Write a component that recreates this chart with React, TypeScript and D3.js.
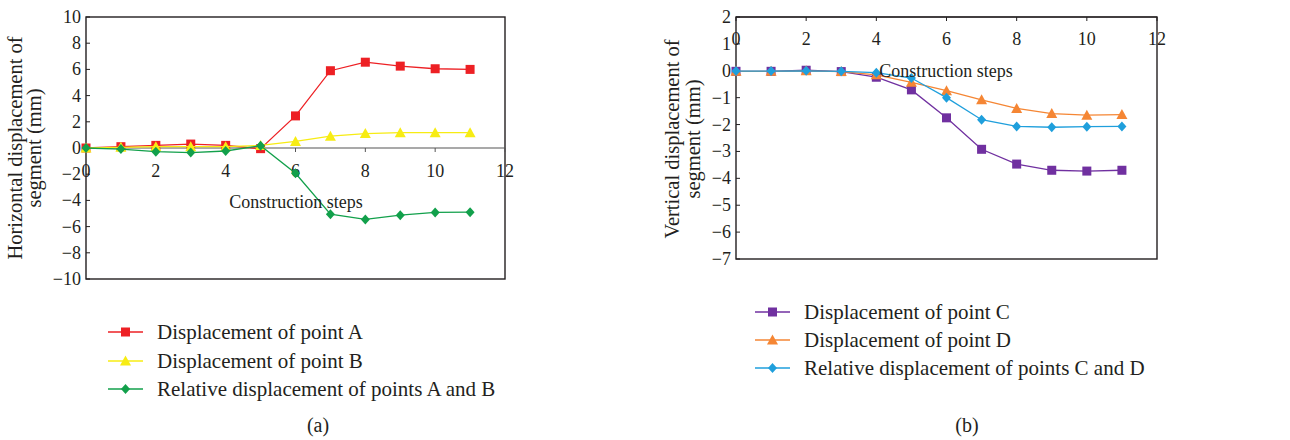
import React from "react";
import * as d3 from "d3";

const steps = [0, 1, 2, 3, 4, 5, 6, 7, 8, 9, 10, 11];
const pointA = [0, 0.1, 0.2, 0.3, 0.2, -0.05, 2.45, 5.9, 6.55, 6.25, 6.05, 6.0];
const pointB = [0, 0.05, 0.1, 0.1, 0.1, 0.2, 0.5, 0.9, 1.1, 1.17, 1.17, 1.17];
const relAB = [0, -0.08, -0.28, -0.35, -0.23, 0.18, -1.93, -5.05, -5.45, -5.13, -4.92, -4.9];
const pointC = [-0.02, -0.02, 0.02, -0.03, -0.24, -0.71, -1.75, -2.92, -3.47, -3.7, -3.73, -3.7];
const pointD = [-0.02, -0.02, 0.0, -0.03, -0.15, -0.43, -0.74, -1.08, -1.4, -1.59, -1.65, -1.63];
const relCD = [-0.01, -0.01, 0.0, -0.02, -0.07, -0.27, -1.0, -1.82, -2.07, -2.1, -2.08, -2.07];
const xTicks = [0, 2, 4, 6, 8, 10, 12];
const yTicksA = [-10, -8, -6, -4, -2, 0, 2, 4, 6, 8, 10];
const yTicksB = [-7, -6, -5, -4, -3, -2, -1, 0, 1, 2];
const legendA = ["Displacement of point A", "Displacement of point B", "Relative displacement of points A and B"];
const legendB = ["Displacement of point C", "Displacement of point D", "Relative displacement of points C and D"];

const FONT = "'Liberation Serif', 'DejaVu Serif', serif";
const TXT = "#231f20";

type Shape = "square" | "triangle" | "diamond";

function Marker({ x, y, shape, color }: { x: number; y: number; shape: Shape; color: string }) {
  if (shape === "square") return <rect x={x - 4.5} y={y - 4.5} width={9} height={9} fill={color} />;
  if (shape === "triangle")
    return <path d={`M${x},${y - 5.5}L${x + 5.5},${y + 4.5}L${x - 5.5},${y + 4.5}Z`} fill={color} />;
  return <path d={`M${x},${y - 5}L${x + 4.5},${y}L${x},${y + 5}L${x - 4.5},${y}Z`} fill={color} />;
}

interface Series { values: number[]; color: string; shape: Shape; }

function Panel(props: {
  x0: number; x1: number; y0: number; y1: number; yDomain: [number, number]; yTicks: number[];
  series: Series[]; xAxisAt: number; xLabelY: number; titleLines: string[]; titleX: number[]; titleCY: number;
  csX: number; csY: number; xAxisColor: string;
}) {
  const xs = d3.scaleLinear().domain([0, 12]).range([props.x0, props.x1]);
  const ys = d3.scaleLinear().domain(props.yDomain).range([props.y1, props.y0]);
  const axY = ys(props.xAxisAt);
  const line = d3.line<number>().x((_, i) => xs(steps[i])).y((d) => ys(d));
  return (
    <g>
      <rect x={props.x0} y={props.y0} width={props.x1 - props.x0} height={props.y1 - props.y0} fill="none" stroke="#231f20" strokeWidth={1.4} />
      <line x1={props.x0} x2={props.x1} y1={axY} y2={axY} stroke={props.xAxisColor} strokeWidth={1.2} />
      {xTicks.map((t) => (
        <g key={t}>
          <line x1={xs(t)} x2={xs(t)} y1={axY} y2={axY + 4} stroke={props.xAxisColor} strokeWidth={1} />
          <text x={xs(t)} y={props.xLabelY} textAnchor="middle" dominantBaseline="central" fontSize={18} fill={TXT}>{t}</text>
        </g>
      ))}
      {props.yTicks.map((t) => (
        <g key={t}>
          <line x1={props.x0} x2={props.x0 + 4} y1={ys(t)} y2={ys(t)} stroke="#231f20" strokeWidth={1} />
          <text x={props.x0 - 5} y={ys(t)} textAnchor="end" dominantBaseline="central" fontSize={18} fill={TXT}>
            {t < 0 ? "\u2212" + Math.abs(t) : t}
          </text>
        </g>
      ))}
      {props.series.map((s, k) => (
        <g key={k}>
          <path d={line(s.values) || ""} fill="none" stroke={s.color} strokeWidth={1.3} />
          {s.values.map((v, i) => (
            <Marker key={i} x={xs(steps[i])} y={ys(v)} shape={s.shape} color={s.color} />
          ))}
        </g>
      ))}
      <text x={props.csX} y={props.csY} textAnchor="middle" dominantBaseline="central" fontSize={18} fill={TXT}>Construction steps</text>
      {props.titleLines.map((l, i) => (
        <text key={i} transform={`translate(${props.titleX[i]},${props.titleCY}) rotate(-90)`} textAnchor="middle" dominantBaseline="central" fontSize={20.5} fill={TXT}>{l}</text>
      ))}
    </g>
  );
}

function Legend({ x, ys, labels, series }: { x: number; ys: number[]; labels: string[]; series: Series[] }) {
  return (
    <g>
      {labels.map((l, i) => (
        <g key={i}>
          <line x1={x} x2={x + 35} y1={ys[i]} y2={ys[i]} stroke={series[i].color} strokeWidth={1.3} />
          <Marker x={x + 17.5} y={ys[i]} shape={series[i].shape} color={series[i].color} />
          <text x={x + 49} y={ys[i]} dominantBaseline="central" fontSize={21} fill={TXT}>{l}</text>
        </g>
      ))}
    </g>
  );
}

export default function App() {
  const seriesA: Series[] = [
    { values: pointA, color: "#ed2024", shape: "square" },
    { values: pointB, color: "#f7ec13", shape: "triangle" },
    { values: relAB, color: "#12a04b", shape: "diamond" },
  ];
  const seriesB: Series[] = [
    { values: pointC, color: "#7030a0", shape: "square" },
    { values: pointD, color: "#f58634", shape: "triangle" },
    { values: relCD, color: "#1f9fdc", shape: "diamond" },
  ];
  return (
    <svg width={1290} height={440} style={{ position: "absolute", left: 0, top: 0, background: "#fff" }} fontFamily={FONT}>
      <rect width={1290} height={440} fill="#fff" />
      <Panel x0={86} x1={505} y0={17} y1={279} yDomain={[-10, 10]} yTicks={yTicksA} series={seriesA}
        xAxisAt={0} xLabelY={171} titleLines={["Horizontal displacement of", "segment (mm)"]} titleX={[15, 34]} titleCY={148}
        csX={296} csY={202} xAxisColor="#555" />
      <Panel x0={736} x1={1157} y0={17} y1={259} yDomain={[-7, 2]} yTicks={yTicksB} series={seriesB}
        xAxisAt={2} xLabelY={39} titleLines={["Vertical displacement of", "segment (mm)"]} titleX={[672, 693]} titleCY={139}
        csX={946} csY={71} xAxisColor="#231f20" />
      <Legend x={108} ys={[332, 361, 389]} labels={legendA} series={seriesA} />
      <Legend x={755} ys={[312, 340, 368]} labels={legendB} series={seriesB} />
      <text x={318} y={425} textAnchor="middle" dominantBaseline="central" fontSize={20} fill={TXT}>(a)</text>
      <text x={967} y={425} textAnchor="middle" dominantBaseline="central" fontSize={20} fill={TXT}>(b)</text>
    </svg>
  );
}
